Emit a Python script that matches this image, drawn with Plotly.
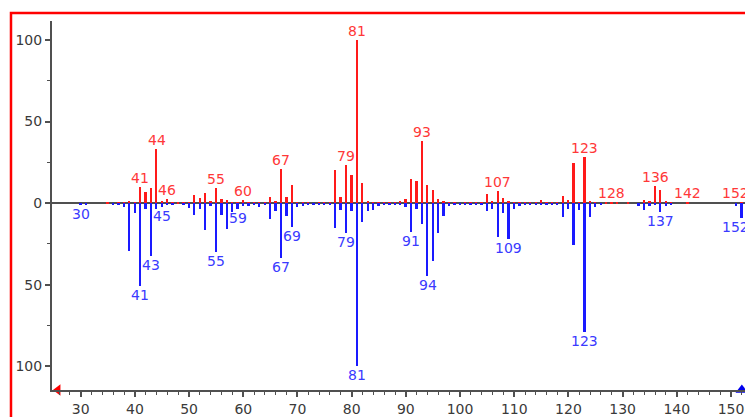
import plotly.graph_objects as go

# ---- data (m/z and relative intensity) ----
ref_mz = [35, 37, 38, 39, 40, 41, 42, 43, 44, 45, 46, 47, 48, 49, 50, 51, 52, 53, 54, 55,
          56, 57, 58, 59, 60, 61, 62, 63, 64, 65, 66, 67, 68, 69, 70, 71, 72, 74, 75, 76,
          77, 78, 79, 80, 81, 82, 83, 84, 85, 86, 87, 88, 89, 90, 91, 92, 93, 94, 95, 96,
          97, 98, 99, 101, 102, 103, 104, 105, 106, 107, 108, 109, 110, 111, 112, 113, 114, 115, 116, 117,
          118, 119, 120, 121, 122, 123, 124, 125, 127, 128, 129, 131, 134, 135, 136, 137, 138, 139, 142, 152]
ref_int = [0.8, 0.8, 0.8, 1.6, 0.8, 9.8, 6.7, 9.1, 33.0, 1.5, 2.5, 0.8, 0.6, 0.6, 1.0, 4.7, 3.0, 6.0, 1.2, 9.0,
           2.6, 1.8, 1.0, 1.0, 2.2, 0.8, 0.8, 1.0, 1.0, 4.0, 1.4, 20.7, 4.0, 11.2, 1.0, 0.8, 0.5, 0.5, 0.6, 0.5,
           20.0, 4.0, 23.2, 17.0, 100.0, 12.2, 1.5, 0.6, 0.6, 0.5, 0.8, 0.8, 1.2, 2.8, 14.6, 13.6, 38.0, 11.2, 8.1, 2.4,
           1.5, 0.8, 0.5, 0.6, 0.5, 0.8, 1.0, 5.7, 1.6, 7.3, 3.0, 1.6, 0.8, 0.6, 0.6, 0.6, 0.6, 2.0, 0.6, 0.8,
           0.8, 4.3, 2.0, 24.6, 1.0, 28.0, 1.5, 1.0, 0.5, 0.8, 0.8, 0.5, 2.0, 1.5, 10.4, 8.3, 1.5, 1.0, 1.0, 1.0]
ref_labels = [41, 44, 46, 55, 60, 67, 79, 81, 93, 107, 123, 128, 136, 142, 152]

lib_mz = [30, 31, 36, 37, 38, 39, 40, 41, 42, 43, 44, 45, 46, 47, 49, 50, 51, 52, 53, 54,
          55, 56, 57, 58, 59, 60, 61, 62, 63, 64, 65, 66, 67, 68, 69, 70, 71, 72, 73, 74,
          75, 76, 77, 78, 79, 80, 81, 82, 83, 84, 85, 86, 87, 88, 89, 90, 91, 92, 93, 94,
          95, 96, 97, 98, 99, 100, 101, 102, 103, 104, 105, 106, 107, 108, 109, 110, 111, 112, 113, 114,
          115, 116, 117, 118, 119, 120, 121, 122, 123, 124, 125, 126, 133, 134, 135, 136, 137, 138, 139, 151, 152]
lib_int = [1.2, 0.6, 0.6, 1.4, 2.4, 29.5, 5.9, 50.5, 3.5, 32.3, 3.5, 2.4, 1.0, 0.6, 0.8, 2.8, 7.5, 3.8, 16.7, 2.0,
           29.9, 7.3, 15.6, 5.5, 3.8, 2.0, 1.5, 1.0, 2.6, 1.2, 9.8, 4.7, 33.5, 8.1, 14.8, 2.6, 1.6, 0.8, 0.8, 0.6,
           0.8, 0.6, 15.4, 4.0, 18.3, 4.7, 100.0, 11.4, 4.7, 4.0, 1.5, 0.8, 0.6, 0.8, 1.0, 2.6, 17.9, 3.7, 12.8, 44.7,
           35.2, 18.3, 8.1, 2.0, 1.0, 0.6, 0.8, 0.6, 1.0, 1.0, 5.0, 3.5, 20.7, 5.9, 21.7, 3.5, 1.5, 0.8, 0.8, 0.6,
           1.0, 0.6, 1.0, 1.0, 8.5, 3.5, 25.4, 4.5, 78.7, 8.5, 2.4, 0.6, 1.5, 3.9, 1.5, 1.4, 5.5, 1.5, 1.0, 1.5, 9.0]
lib_labels = [30, 41, 43, 45, 55, 59, 67, 69, 79, 81, 91, 94, 109, 123, 137, 152]

precursor_mz = 152
x_range = [24.7, 154.06]
y_range = [-114.5, 111.6]
y_ticks = [100, 50, 0, -50, -100]
y_ticktext = ["100", "50", "0", "50", "100"]

RED_BAR = "#ff1a1a"
BLUE_BAR = "#1a1aff"
RED_TXT = "#ff3838"
BLUE_TXT = "#3a3aff"
AXIS = "#505050"
FONT = "DejaVu Sans"

fig = go.Figure()
fig.add_trace(go.Bar(x=ref_mz, y=ref_int, width=0.33, marker_color=RED_BAR,
                     marker_line_width=0, showlegend=False, hoverinfo="x+y"))
fig.add_trace(go.Bar(x=lib_mz, y=[-v for v in lib_int], width=0.33, marker_color=BLUE_BAR,
                     marker_line_width=0, showlegend=False, hoverinfo="x+y"))

# markers on the axes
fig.add_trace(go.Scatter(x=[precursor_mz], y=[y_range[0]], mode="markers",
                         marker=dict(symbol="triangle-up", size=11, color="#0000ee"),
                         cliponaxis=False, showlegend=False, hoverinfo="skip"))
fig.add_trace(go.Scatter(x=[x_range[0] + 1.1], y=[y_range[0]], mode="markers",
                         marker=dict(symbol="triangle-left", size=10, color="#ff0000"),
                         cliponaxis=False, showlegend=False, hoverinfo="skip"))

ref_map = dict(zip(ref_mz, ref_int))
lib_map = dict(zip(lib_mz, lib_int))
edge = x_range[1] - 3
for m in ref_labels:
    fig.add_annotation(x=m, y=ref_map[m], text=str(m), showarrow=False, yanchor="bottom",
                       xanchor="center", yshift=-1, xshift=(-6 if m > edge else 0),
                       font=dict(family=FONT, size=14, color=RED_TXT))
for m in lib_labels:
    fig.add_annotation(x=m, y=-lib_map[m], text=str(m), showarrow=False, yanchor="top",
                       xanchor="center", yshift=1, xshift=(-6 if m > edge else 0),
                       font=dict(family=FONT, size=14, color=BLUE_TXT))

# red frame
fig.add_shape(type="rect", xref="paper", yref="paper", x0=-0.0585, x1=1.2, y0=-0.3, y1=1.0215,
              line=dict(color="#ff0000", width=2.5), layer="above")

fig.update_layout(
    width=745, height=409,
    margin=dict(l=44, r=0, t=13, b=25),
    paper_bgcolor="white", plot_bgcolor="white",
    barmode="overlay", bargap=0,
    font=dict(family=FONT, size=14, color="#3a3a3a"),
    showlegend=False,
)
fig.update_xaxes(range=x_range, showgrid=False, zeroline=False,
                 showline=True, linecolor=AXIS, linewidth=2,
                 ticks="outside", ticklen=5, tickwidth=1.5, tickcolor=AXIS,
                 tick0=0, dtick=10,
                 minor=dict(dtick=2, tick0=0, ticks="outside", ticklen=3, tickwidth=1, tickcolor=AXIS),
                 tickfont=dict(family=FONT, size=14, color="#3a3a3a"))
fig.update_yaxes(range=y_range, showgrid=False,
                 zeroline=True, zerolinecolor=AXIS, zerolinewidth=2,
                 showline=True, linecolor=AXIS, linewidth=2,
                 ticks="outside", ticklen=5, tickwidth=1.5, tickcolor=AXIS,
                 tickvals=y_ticks, ticktext=y_ticktext,
                 minor=dict(tickvals=[75, 25, -25, -75], ticks="outside", ticklen=3, tickwidth=1, tickcolor=AXIS),
                 tickfont=dict(family=FONT, size=14, color="#3a3a3a"))

fig.write_html("out.html")
